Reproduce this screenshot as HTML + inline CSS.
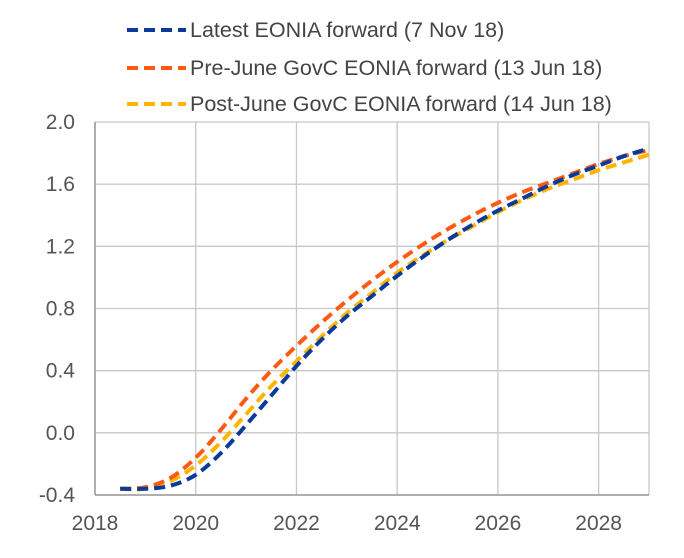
<!DOCTYPE html>
<html><head><meta charset="utf-8"><style>
body{margin:0;background:#fff;}
svg{display:block;font-family:"Liberation Sans",Arial,sans-serif;}
</style></head><body>
<svg id="chart" width="684" height="558" viewBox="0 0 684 558"></svg>
<script>
const years=[2018.5,2019,2019.5,2020,2020.5,2021,2021.5,2022,2022.5,2023,2023.5,2024,2024.5,2025,2025.5,2026,2026.5,2027,2027.5,2028,2028.5,2029];
const latest=[-0.36,-0.36,-0.34,-0.27,-0.13,0.05,0.24,0.43,0.60,0.75,0.88,1.01,1.13,1.24,1.34,1.43,1.51,1.59,1.66,1.72,1.78,1.83];
const preJune=[-0.36,-0.35,-0.29,-0.16,0.02,0.22,0.40,0.56,0.71,0.85,0.98,1.10,1.21,1.31,1.40,1.48,1.55,1.61,1.67,1.73,1.78,1.82];
const postJune=[-0.36,-0.36,-0.31,-0.21,-0.06,0.12,0.30,0.46,0.62,0.77,0.90,1.03,1.14,1.24,1.33,1.42,1.50,1.57,1.63,1.69,1.74,1.79];
const xTicks=[2018,2020,2022,2024,2026,2028];
const yTicks=[-0.4,0.0,0.4,0.8,1.2,1.6,2.0];
const seriesNames=["Latest EONIA forward (7 Nov 18)","Pre-June GovC EONIA forward (13 Jun 18)","Post-June GovC EONIA forward (14 Jun 18)"];
const colors=["#0a3a9c","#ff5a14","#ffb400"];

const L=95,R=649,T=122,B=495,X0=2018,X1=2029,Y0=-0.4,Y1=2.0;
const sx=v=>L+(v-X0)/(X1-X0)*(R-L);
const sy=v=>B-(v-Y0)/(Y1-Y0)*(B-T);
const svg=document.getElementById('chart');
const NS="http://www.w3.org/2000/svg";
function mk(tag,attrs,parent){const e=document.createElementNS(NS,tag);for(const k in attrs)e.setAttribute(k,attrs[k]);(parent||svg).appendChild(e);return e;}

xTicks.forEach(t=>{
  const g=mk('line',{x1:sx(t),x2:sx(t),y1:T,y2:B,stroke:'#c8c8c8','stroke-width':1.3});
  
  
  const lb=mk('text',{x:sx(t),y:530,'text-anchor':'middle','font-size':21,fill:'#555'});
  lb.textContent=t;
  
  
});
const rg=mk('line',{x1:R,x2:R,y1:T,y2:B,stroke:'#c8c8c8','stroke-width':1.3});


yTicks.forEach(t=>{
  const g=mk('line',{x1:L,x2:R,y1:sy(t),y2:sy(t),stroke:'#c8c8c8','stroke-width':1.3});
  
  
  const lb=mk('text',{x:75,y:sy(t)+7,'text-anchor':'end','font-size':21,fill:'#555'});
  lb.textContent=t.toFixed(1);
  
  
});
const xa=mk('line',{x1:L,x2:R,y1:B,y2:B,stroke:'#999','stroke-width':1.5});


const ya=mk('line',{x1:L,x2:L,y1:T,y2:B,stroke:'#999','stroke-width':1.5});



function smoothPath(xs,ys){
  const p=xs.map((x,i)=>[sx(x),sy(ys[i])]);
  let d=`M${p[0][0]},${p[0][1]}`;
  for(let i=0;i<p.length-1;i++){
    const p0=p[i-1]||p[i],p1=p[i],p2=p[i+1],p3=p[i+2]||p2;
    const c1=[p1[0]+(p2[0]-p0[0])/6,p1[1]+(p2[1]-p0[1])/6];
    const c2=[p2[0]-(p3[0]-p1[0])/6,p2[1]-(p3[1]-p1[1])/6];
    d+=` C${c1[0]},${c1[1]} ${c2[0]},${c2[1]} ${p2[0]},${p2[1]}`;
  }
  return d;
}
const data=[latest,preJune,postJune];
const names=['series-latest','series-pre-june','series-post-june'];
[2,1,0].forEach(i=>{
  const pth=mk('path',{d:smoothPath(years,data[i]),fill:'none',stroke:colors[i],'stroke-width':4,'stroke-dasharray':'11,6'});
  
  
});
const ly=[30,68,104];
seriesNames.forEach((n,i)=>{
  const g=mk('g',{});
  
  
  mk('line',{x1:127,x2:186,y1:ly[i],y2:ly[i],stroke:colors[i],'stroke-width':4,'stroke-dasharray':'11,6'},g);
  const t=mk('text',{x:190,y:ly[i]+7,'font-size':21.5,fill:'#444'},g);
  t.textContent=n;
});
</script>
</body></html>
